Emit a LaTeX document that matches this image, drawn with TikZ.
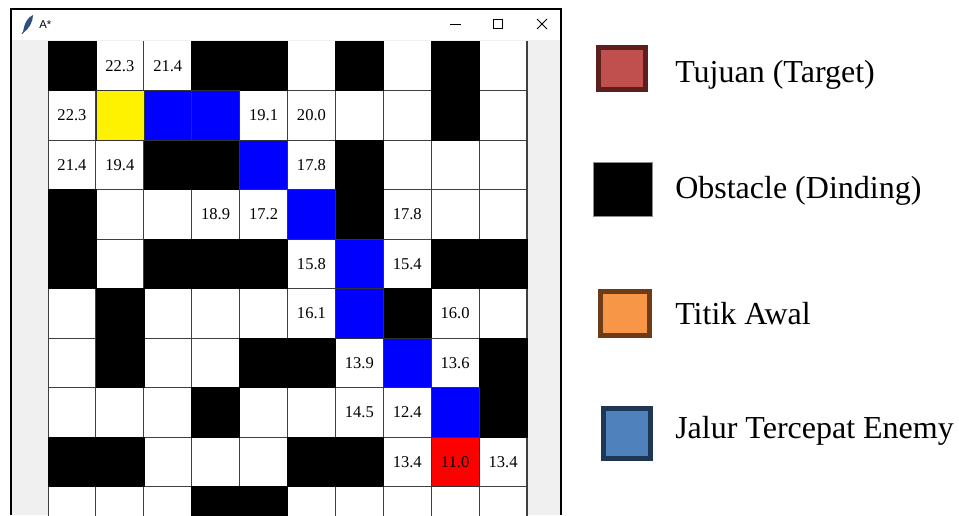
\documentclass[tikz,border=0pt]{standalone}
\usepackage{fontspec}
\setmainfont{Liberation Serif}
\newfontfamily\uifont{Liberation Sans}
\definecolor{winbg}{HTML}{F0F0F0}
\definecolor{targetfill}{HTML}{C0504D}
\definecolor{targetline}{HTML}{5C1F1E}
\definecolor{startfill}{HTML}{F79646}
\definecolor{startline}{HTML}{6E3B17}
\definecolor{pathfill}{HTML}{4F81BD}
\definecolor{pathline}{HTML}{1F3654}
\definecolor{feather}{HTML}{2F4F7F}

\begin{document}
\begin{tikzpicture}[x=0.75pt,y=-0.75pt,
  cellnum/.style={inner sep=0pt,font=\fontsize{12.4}{14}\selectfont},
  gridline/.style={black!75,line width=0.75pt},
  legendbox/.style={inner sep=0pt,line width=3.75pt},
  legendtext/.style={anchor=base west,inner sep=0pt,font=\fontsize{24}{28}\selectfont}]
  \useasboundingbox (0,0) rectangle (959,515);
  \clip (0,0) rectangle (959,515);
  \fill[white] (0,0) rectangle (959,515);
  \fill[winbg] (12,40) rectangle (560,515);
  \draw[line width=1.5pt] (11,515) -- (11,9) -- (561,9) -- (561,515);
  \fill[feather] (23,33) .. controls (24,23) and (28,17) .. (33,15) .. controls (33,22) and (29,29) .. (23,33);
  \draw[feather,line width=0.6pt] (22,34) -- (27,26);
  \node[anchor=west,inner sep=0pt,font=\uifont\fontsize{8.5}{10}\selectfont] (title) at (39,25) {A*};
  \draw[line width=0.75pt] (450,24) -- (461,24);
  \draw[line width=0.75pt] (493,19) rectangle (502,28);
  \draw[line width=0.75pt] (537,19) -- (547,29) (537,29) -- (547,19);
  \begin{scope}[xshift=36pt,yshift=-30.75pt,x=35.925pt,y=-37.125pt]
    \fill[white] (0,0) rectangle (10,10);
    \draw[gridline] (0,0) -- (0,10);
    \draw[gridline] (1,0) -- (1,10);
    \draw[gridline] (2,0) -- (2,10);
    \draw[gridline] (3,0) -- (3,10);
    \draw[gridline] (4,0) -- (4,10);
    \draw[gridline] (5,0) -- (5,10);
    \draw[gridline] (6,0) -- (6,10);
    \draw[gridline] (7,0) -- (7,10);
    \draw[gridline] (8,0) -- (8,10);
    \draw[gridline] (9,0) -- (9,10);
    \draw[gridline,line width=1.5pt] (10,0) -- (10,10);
    \draw[gridline] (0,1) -- (10,1);
    \draw[gridline] (0,2) -- (10,2);
    \draw[gridline] (0,3) -- (10,3);
    \draw[gridline] (0,4) -- (10,4);
    \draw[gridline] (0,5) -- (10,5);
    \draw[gridline] (0,6) -- (10,6);
    \draw[gridline] (0,7) -- (10,7);
    \draw[gridline] (0,8) -- (10,8);
    \draw[gridline] (0,9) -- (10,9);
    \filldraw[black] (0,0) rectangle (1,1);
    \filldraw[black] (3,0) rectangle (5,1);
    \filldraw[black] (6,0) rectangle (7,1);
    \filldraw[black] (8,0) rectangle (9,2);
    \filldraw[black] (2,2) rectangle (4,3);
    \filldraw[black] (6,2) rectangle (7,4);
    \filldraw[black] (0,3) rectangle (1,5);
    \filldraw[black] (2,4) rectangle (5,5);
    \filldraw[black] (8,4) rectangle (10,5);
    \filldraw[black] (1,5) rectangle (2,7);
    \filldraw[black] (7,5) rectangle (8,6);
    \filldraw[black] (4,6) rectangle (6,7);
    \filldraw[black] (9,6) rectangle (10,8);
    \filldraw[black] (3,7) rectangle (4,8);
    \filldraw[black] (0,8) rectangle (2,9);
    \filldraw[black] (5,8) rectangle (7,9);
    \filldraw[black] (3,9) rectangle (5,10);
    \filldraw[fill=yellow,draw=black!80] (1,1) rectangle (2,2);
    \filldraw[fill=blue,draw=black!80] (2,1) rectangle (3,2);
    \filldraw[fill=blue,draw=black!80] (3,1) rectangle (4,2);
    \filldraw[fill=blue,draw=black!80] (4,2) rectangle (5,3);
    \filldraw[fill=blue,draw=black!80] (5,3) rectangle (6,4);
    \filldraw[fill=blue,draw=black!80] (6,4) rectangle (7,5);
    \filldraw[fill=blue,draw=black!80] (6,5) rectangle (7,6);
    \filldraw[fill=blue,draw=black!80] (7,6) rectangle (8,7);
    \filldraw[fill=blue,draw=black!80] (8,7) rectangle (9,8);
    \filldraw[fill=red,draw=black!80] (8,8) rectangle (9,9);
    \node[cellnum] (r0c1) at (1.5,0.5) {22.3};
    \node[cellnum] (r0c2) at (2.5,0.5) {21.4};
    \node[cellnum] (r1c0) at (0.5,1.5) {22.3};
    \node[cellnum] (r1c4) at (4.5,1.5) {19.1};
    \node[cellnum] (r1c5) at (5.5,1.5) {20.0};
    \node[cellnum] (r2c0) at (0.5,2.5) {21.4};
    \node[cellnum] (r2c1) at (1.5,2.5) {19.4};
    \node[cellnum] (r2c5) at (5.5,2.5) {17.8};
    \node[cellnum] (r3c3) at (3.5,3.5) {18.9};
    \node[cellnum] (r3c4) at (4.5,3.5) {17.2};
    \node[cellnum] (r3c7) at (7.5,3.5) {17.8};
    \node[cellnum] (r4c5) at (5.5,4.5) {15.8};
    \node[cellnum] (r4c7) at (7.5,4.5) {15.4};
    \node[cellnum] (r5c5) at (5.5,5.5) {16.1};
    \node[cellnum] (r5c8) at (8.5,5.5) {16.0};
    \node[cellnum] (r6c6) at (6.5,6.5) {13.9};
    \node[cellnum] (r6c8) at (8.5,6.5) {13.6};
    \node[cellnum] (r7c6) at (6.5,7.5) {14.5};
    \node[cellnum] (r7c7) at (7.5,7.5) {12.4};
    \node[cellnum] (r8c7) at (7.5,8.5) {13.4};
    \node[cellnum] (r8c8) at (8.5,8.5) {11.0};
    \node[cellnum] (r8c9) at (9.5,8.5) {13.4};
  \end{scope}
  \node[legendbox,draw=targetline,fill=targetfill,minimum width=35.25pt,minimum height=31.5pt] (boxtarget) at (622,68.5) {};
  \node[inner sep=0pt,draw=black!45,line width=0.75pt,fill=black,minimum width=44.25pt,minimum height=40.5pt] (boxwall) at (623,189.5) {};
  \node[legendbox,draw=startline,fill=startfill,minimum width=36.75pt,minimum height=33pt] (boxstart) at (625,313.5) {};
  \node[legendbox,draw=pathline,fill=pathfill,minimum width=35.25pt,minimum height=37.5pt] (boxpath) at (627,433.5) {};
  \node[legendtext] (lbltarget) at (675,82) {Tujuan (Target)};
  \node[legendtext] (lblwall) at (675,198) {Obstacle (Dinding)};
  \node[legendtext] (lblstart) at (675,324) {Titik Awal};
  \node[legendtext] (lblpath) at (675,438) {Jalur Tercepat Enemy};
\end{tikzpicture}
\end{document}
